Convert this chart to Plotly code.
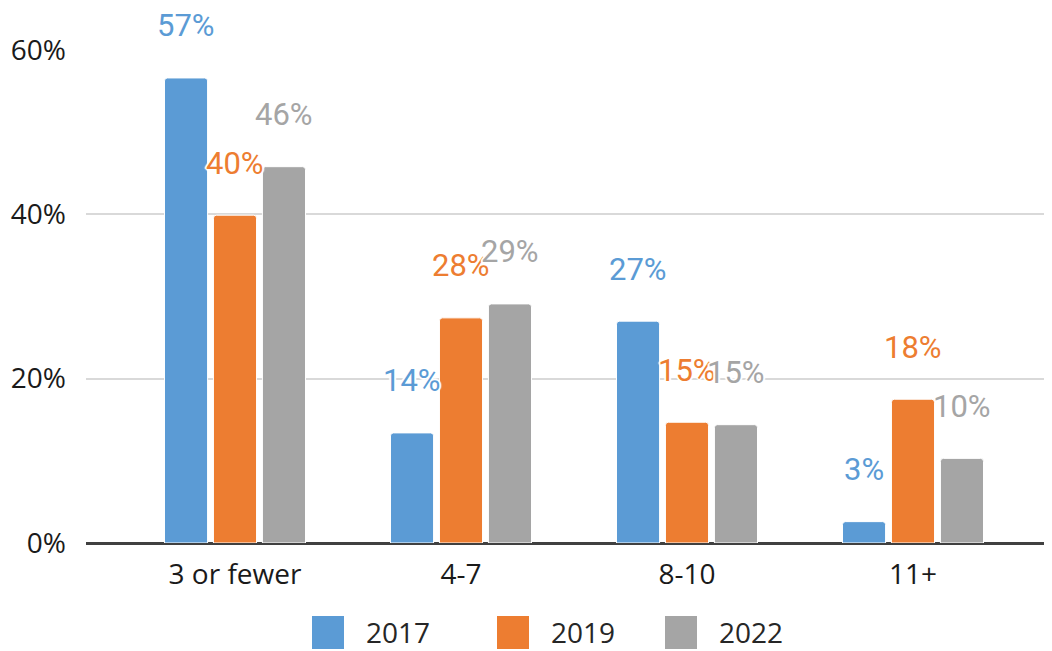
import plotly.graph_objects as go

categories = ["3 or fewer", "4-7", "8-10", "11+"]
years = ["2017", "2019", "2022"]
values_2017 = [56.6, 13.4, 27.0, 2.6]
values_2019 = [39.9, 27.4, 14.7, 17.5]
values_2022 = [45.8, 29.1, 14.4, 10.3]
labels_2017 = ["57%", "14%", "27%", "3%"]
labels_2019 = ["40%", "28%", "15%", "18%"]
labels_2022 = ["46%", "29%", "15%", "10%"]
y_ticks = [0, 20, 40, 60]
y_tick_labels = ["0%", "20%", "40%", "60%"]

colors = ["#5B9BD5", "#ED7D31", "#A5A5A5"]
series = [values_2017, values_2019, values_2022]
labels = [labels_2017, labels_2019, labels_2022]

# page body has an 8px margin: compensate so the chart lands at the window origin
OFF = 8
W, H = 1052 - OFF, 651 - OFF
ML, MR, MT, MB = 86 - OFF, 0, 50 - OFF, 108
BARGAP = 0.35
BARGROUPGAP = 0.12
PX_PER_CAT = 226

fig = go.Figure()
for name, vals, col in zip(years, series, colors):
    fig.add_trace(go.Bar(
        x=categories, y=vals, name=name,
        marker=dict(color=col, line=dict(color="white", width=1)),
        showlegend=False, hoverinfo="skip",
    ))

halo = ("white 1px 1px 1px, white -1px -1px 1px, white 1px -1px 1px, "
        "white -1px 1px 1px, white 0px 2px 1px, white 0px -2px 1px, "
        "white 2px 0px 1px, white -2px 0px 1px")
slot = (1 - BARGAP) / len(series)
annotations = []
for j, (vals, labs, col) in enumerate(zip(series, labels, colors)):
    for i, (v, t) in enumerate(zip(vals, labs)):
        annotations.append(dict(
            x=i - (1 - BARGAP) / 2 + slot * (j + 0.5), y=v,
            xref="x", yref="y", text=t, showarrow=False,
            yshift=52, xanchor="center", yanchor="middle",
            font=dict(family="Roboto", size=31, color=col, shadow=halo),
        ))

# custom legend (paper coords), positions given in window pixels
plot_w = W - ML - MR
plot_h = H - MT - MB
def px_x(p):
    return (p - OFF - ML) / plot_w
def px_y(p):
    return (H - MB - (p - OFF)) / plot_h

legend_sq_x = [312, 497, 665]
shapes = []
for k, (name, col) in enumerate(zip(years, colors)):
    x0 = legend_sq_x[k]
    shapes.append(dict(type="rect", xref="paper", yref="paper",
                       x0=px_x(x0), x1=px_x(x0 + 32), y0=px_y(649), y1=px_y(616),
                       fillcolor=col, line=dict(width=0), layer="above"))
    annotations.append(dict(x=px_x(x0 + 52), y=px_y(632), xref="paper", yref="paper",
                            text=name, showarrow=False, xanchor="left", yanchor="middle",
                            font=dict(family="Open Sans", size=28, color="#262626")))

x_lo = -(235 - OFF - ML) / PX_PER_CAT
x_hi = x_lo + plot_w / PX_PER_CAT

fig.update_layout(
    width=W, height=H,
    margin=dict(l=ML, r=MR, t=MT, b=MB, pad=0),
    paper_bgcolor="white", plot_bgcolor="white",
    barmode="group", bargap=BARGAP, bargroupgap=BARGROUPGAP,
    barcornerradius=3,
    font=dict(family="Open Sans", color="#1a1a1a"),
    annotations=annotations, shapes=shapes,
    showlegend=False,
)
fig.update_xaxes(
    range=[x_lo, x_hi], showgrid=False, showline=False, zeroline=False,
    ticks="", tickfont=dict(family="Open Sans", size=28, color="#1a1a1a"),
    ticklabelstandoff=12,
)
fig.update_yaxes(
    range=[0, 60], tickvals=y_ticks, ticktext=y_tick_labels,
    showgrid=True, gridcolor="#D9D9D9", gridwidth=2,
    zeroline=True, zerolinecolor="#404040", zerolinewidth=3,
    showline=False, ticks="",
    tickfont=dict(family="Open Sans", size=28, color="#1a1a1a"),
    ticklabelstandoff=19,
)
fig.write_html("out.html")
